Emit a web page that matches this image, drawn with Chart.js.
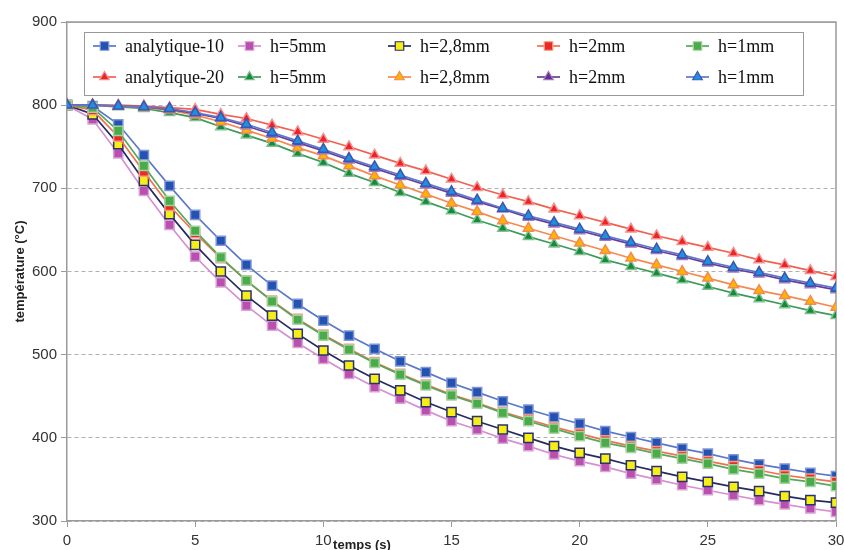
<!DOCTYPE html>
<html>
<head>
<meta charset="utf-8">
<script src="https://cdn.jsdelivr.net/npm/chart.js@4/dist/chart.umd.min.js"></script>
<style>
  html, body { margin: 0; padding: 0; background: #fff; }
  canvas { display: block; }
</style>
</head>
<body>
<canvas id="courbes" width="844" height="550"></canvas>
<script>
// temps (s)
const temps = [0,1,2,3,4,5,6,7,8,9,10,11,12,13,14,15,16,17,18,19,20,21,22,23,24,25,26,27,28,29,30];

// groupe 10 (carres)
const analytique10 = [800,799,777,740,703,668,637,608,583,561,541,523,507,492,479,466,455,444,434,425,417,408,401,394,387,381,374,368,363,358,354];
const h5mm_10 = [800,783,742,697,656,618,587,559,535,514,495,477,461,447,433,420,410,399,390,380,372,365,357,350,343,337,331,325,320,315,311];
const h28mm_10 = [800,789,753,709,669,632,600,571,547,525,505,487,471,457,443,431,420,410,400,390,382,375,367,360,353,347,341,336,330,325,322];
const h2mm_10 = [800,794,762,720,679,646,616,589,565,543,524,507,491,477,464,452,442,431,422,413,405,397,390,384,378,372,366,361,355,351,347];
const h1mm_10 = [800,797,769,727,685,649,617,589,564,542,523,506,490,476,463,451,441,430,420,411,402,394,388,381,375,369,362,357,351,347,342];

// groupe 20 (triangles)
const analytique20 = [800,800,800,799,797,795,789,784,776,768,759,750,740,730,721,711,701,692,684,675,667,659,651,643,636,629,622,614,608,601,594];
const h5mm_20 = [800,800,798,796,791,785,774,764,754,742,731,718,707,695,684,673,662,652,642,633,624,614,606,598,590,582,574,567,560,553,547];
const h28mm_20 = [800,800,799,797,794,788,780,770,760,749,739,727,715,704,693,682,672,661,652,643,634,625,616,608,600,592,584,577,571,564,557];
const h2mm_20 = [800,800,799,798,795,790,784,775,765,755,745,734,724,714,704,694,684,675,665,657,649,641,633,625,618,610,603,597,590,584,578];
const h1mm_20 = [800,800,799,798,796,791,785,777,767,757,747,736,726,716,706,696,686,676,667,659,651,643,635,627,620,612,605,599,592,586,580];

const yTicks = [300,400,500,600,700,800,900];
const xTicks = [0,5,10,15,20,25,30];

function serie(label, valeurs, forme, ligne, fond, bord) {
  return {
    label: label,
    data: valeurs.map((v, i) => ({ x: temps[i], y: v })),
    borderColor: ligne,
    borderWidth: 1.7,
    pointStyle: forme,
    pointRadius: forme === 'rect' ? 6.5 : 5.8,
    pointBackgroundColor: fond,
    pointBorderColor: bord,
    pointBorderWidth: 1.5,
    tension: 0,
    fill: false
  };
}

const series = [
  serie('analytique-10', analytique10, 'rect', '#5a78c8', '#2352b0', '#7f95d8'),
  serie('h=5mm', h5mm_10, 'rect', '#d68fd0', '#b94fae', '#d9a2d5'),
  serie('h=2,8mm', h28mm_10, 'rect', '#262a60', '#f6ee14', '#2b3070'),
  serie('h=2mm', h2mm_10, 'rect', '#f2704e', '#ec2a25', '#f49a88'),
  serie('h=1mm', h1mm_10, 'rect', '#55a85c', '#4aab4a', '#a5d3a0'),
  serie('analytique-20', analytique20, 'triangle', '#f2604e', '#ec2424', '#f49090'),
  serie('h=5mm', h5mm_20, 'triangle', '#3c9a5a', '#158a3a', '#7fc090'),
  serie('h=2,8mm', h28mm_20, 'triangle', '#f58a50', '#ffb400', '#f58a50'),
  serie('h=2mm', h2mm_20, 'triangle', '#6a3c9a', '#6a2b8c', '#9a7ac0'),
  serie('h=1mm', h1mm_20, 'triangle', '#5f78cc', '#1e90e0', '#3c55b0')
];
// comme Excel : la derniere serie passe dessus
series.forEach((s, i) => { s.order = 10 - i; });

// cadre haut et droit
const cadre = {
  id: 'cadre',
  beforeDatasetsDraw(chart) {
    const a = chart.chartArea;
    const ctx = chart.ctx;
    ctx.save();
    ctx.strokeStyle = '#9a9a9a';
    ctx.lineWidth = 1.5;
    ctx.beginPath();
    ctx.moveTo(a.left, a.top);
    ctx.lineTo(a.right, a.top);
    ctx.lineTo(a.right, a.bottom);
    ctx.stroke();
    ctx.restore();
  }
};

// legende en grille 5 x 2, dans le graphique
const legende = {
  id: 'legende',
  afterDatasetsDraw(chart) {
    const ctx = chart.ctx;
    ctx.save();
    ctx.fillStyle = '#fff';
    ctx.fillRect(84, 32, 719, 63);
    ctx.strokeStyle = '#999';
    ctx.lineWidth = 1;
    ctx.strokeRect(84.5, 32.5, 719, 63);
    const colX = [125, 270, 420, 569, 718];
    const rowY = [46, 77];
    ctx.font = '18px "Liberation Serif"';
    ctx.textBaseline = 'middle';
    chart.data.datasets.forEach((ds, i) => {
      const tx = colX[i % 5];
      const y = rowY[Math.floor(i / 5)];
      ctx.strokeStyle = ds.borderColor;
      ctx.lineWidth = 1.7;
      ctx.beginPath();
      ctx.moveTo(tx - 32, y);
      ctx.lineTo(tx - 9, y);
      ctx.stroke();
      ctx.fillStyle = ds.pointBackgroundColor;
      ctx.strokeStyle = ds.pointBorderColor;
      ctx.lineWidth = 1.2;
      Chart.helpers.drawPoint(ctx, {
        pointStyle: ds.pointStyle,
        radius: ds.pointStyle === 'rect' ? 6 : 5.5,
        rotation: 0,
        borderWidth: 1.2
      }, tx - 20.5, y);
      ctx.fillStyle = '#111';
      ctx.fillText(ds.label, tx, y + 1);
    });
    // titre de l'axe x
    ctx.font = 'bold 13px "Liberation Sans"';
    ctx.fillStyle = '#222';
    ctx.textAlign = 'center';
    ctx.textBaseline = 'alphabetic';
    ctx.fillText('temps (s)', 362, 549);
    ctx.restore();
  }
};

const ctx = document.getElementById('courbes').getContext('2d');
new Chart(ctx, {
  type: 'line',
  data: { datasets: series },
  options: {
    responsive: false,
    animation: false,
    layout: { padding: { left: 0, right: 8, top: 22, bottom: 0 } },
    plugins: {
      legend: { display: false },
      tooltip: { enabled: false }
    },
    scales: {
      x: {
        type: 'linear',
        min: 0,
        max: 30,
        afterFit: (s) => { s.height = 29; s.paddingLeft = 0; s.paddingRight = 0; },
        afterBuildTicks: (s) => { s.ticks = xTicks.map(v => ({ value: v })); },
        ticks: {
          padding: 5,
          color: '#333',
          font: { family: '"Liberation Sans"', size: 15 },
          maxRotation: 0
        },
        grid: { drawOnChartArea: false, drawTicks: true, tickLength: 6, color: '#9a9a9a' },
        border: { color: '#9a9a9a', width: 1.5 }
      },
      y: {
        min: 300,
        max: 900,
        afterFit: (s) => { s.width = 67; s.paddingTop = 0; s.paddingBottom = 0; },
        afterBuildTicks: (s) => { s.ticks = yTicks.map(v => ({ value: v })); },
        ticks: {
          padding: 4,
          color: '#333',
          font: { family: '"Liberation Sans"', size: 15 }
        },
        grid: { color: '#b0b0b0', lineWidth: 1, tickLength: 6, tickColor: '#9a9a9a' },
        border: {
          color: '#9a9a9a',
          width: 1.5,
          dash: (c) => (c.tick && c.tick.value === 900 ? [] : [4, 3])
        },
        title: {
          display: true,
          text: 'température (°C)',
          color: '#222',
          font: { family: '"Liberation Sans"', size: 13, weight: 'bold' },
          padding: { top: 13, bottom: 0 }
        }
      }
    }
  },
  plugins: [cadre, legende]
});
</script>
</body>
</html>
